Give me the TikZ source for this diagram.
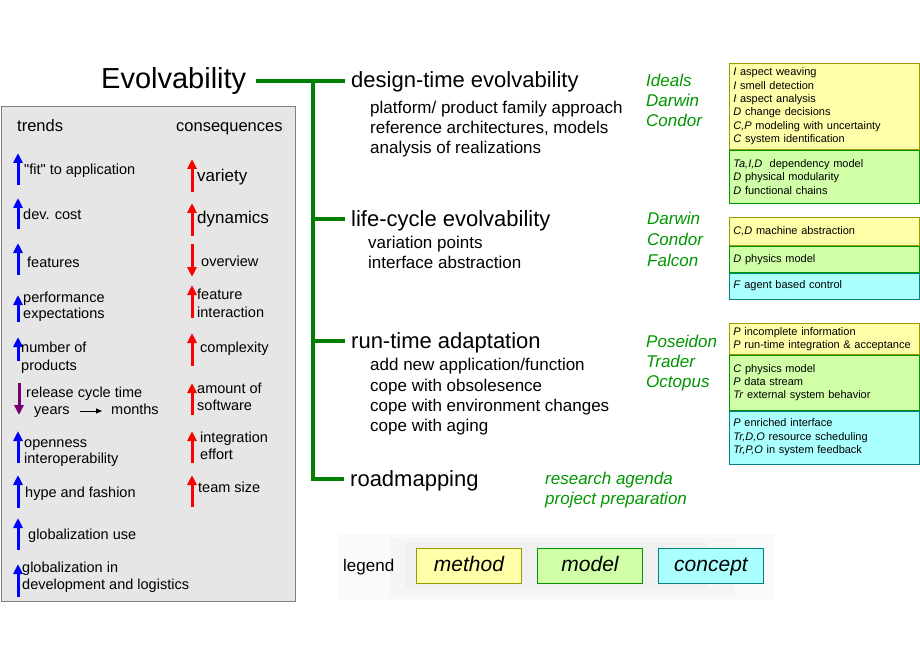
\documentclass[tikz,border=0pt]{standalone}
\usepackage{fontspec}
\setmainfont{Liberation Sans}[Ligatures=TeXOff]
\usetikzlibrary{arrows.meta, positioning}

\definecolor{treegreen}{RGB}{0,128,0}
\definecolor{projgreen}{RGB}{0,150,0}
\definecolor{methodfill}{RGB}{255,255,170}
\definecolor{methodline}{RGB}{153,153,0}
\definecolor{modelfill}{RGB}{208,255,168}
\definecolor{modelline}{RGB}{0,150,0}
\definecolor{conceptfill}{RGB}{170,255,255}
\definecolor{conceptline}{RGB}{0,128,128}
\definecolor{panelfill}{RGB}{230,230,230}
\definecolor{panelline}{RGB}{128,128,128}

\tikzset{
  tree/.style={draw=treegreen, line width=3.3pt},
  head/.style={anchor=west, inner xsep=6pt, inner ysep=0pt, font=\fontsize{22}{24}\selectfont, text height=16pt, text depth=2pt},
  item/.style={anchor=base west, inner sep=0pt, font=\fontsize{17}{20}\selectfont},
  project/.style={anchor=base west, inner sep=0pt, text=projgreen, font=\fontsize{17}{20}\selectfont\itshape},
  small/.style={anchor=base west, inner sep=0pt, font=\fontsize{14.5}{17}\selectfont},
  trendup/.style={draw=blue, line width=3pt, -{Triangle[length=10pt,width=9pt]}},
  conseq/.style={draw=red, line width=3pt, -{Triangle[length=10pt,width=9pt]}},
  boxtext/.style={anchor=north west, align=left, text width=182pt, inner xsep=4pt, inner ysep=2pt, line width=0.8pt, font=\fontsize{11}{13.4}\selectfont},
  methodcol/.style={fill=methodfill, draw=methodline},
  modelcol/.style={fill=modelfill, draw=modelline},
  conceptcol/.style={fill=conceptfill, draw=conceptline},
  legendbox/.style={minimum width=105pt, minimum height=35pt, inner sep=0pt, line width=0.8pt, text height=15pt, text depth=5pt, font=\fontsize{21}{24}\selectfont\itshape}
}

\begin{document}
\begin{tikzpicture}[x=1pt, y=-1pt]
\fill[white] (0,0) rectangle (920,660);
\useasboundingbox (0,0) rectangle (920,660);

% Evolvability tree
\node[anchor=west, inner xsep=10pt, inner ysep=0pt, font=\fontsize{29}{32}\selectfont, text height=22pt, text depth=6pt] (evo) at (91,81) {Evolvability};
\node[head] (design) at (345,81) {design-time evolvability};
\node[head] (lifecycle) at (345,219) {life-cycle evolvability};
\node[head] (runtime) at (345,341) {run-time adaptation};
\node[head] (roadmap) at (344,479) {roadmapping};
\coordinate (trunk) at (313,81);
\draw[tree] (evo) -- (design);
\foreach \n in {lifecycle, runtime, roadmap}
  \draw[tree] (trunk) |- (\n.west);

% topics per branch
\foreach \t [count=\i] in {{platform/ product family approach}, {reference architectures, models}, {analysis of realizations}}
  \node[item] (dt\i) at (370,94+20*\i) {\t};
\foreach \y/\t [count=\i] in {248/{variation points}, 269/{interface abstraction}}
  \node[item] (lc\i) at (368,\y) {\t};
\foreach \y/\t [count=\i] in {370/{add new application/function}, 391/{cope with obsolesence}, 411/{cope with environment changes}, 431/{cope with aging}}
  \node[item] (rt\i) at (370,\y) {\t};

% projects
\foreach \t [count=\i] in {Ideals, Darwin, Condor}
  \node[project] (pdt\i) at (646,67+20*\i) {\t};
\foreach \y/\t [count=\i] in {225/Darwin, 245/Condor, 266/Falcon}
  \node[project] (plc\i) at (647,\y) {\t};
\foreach \t [count=\i] in {Poseidon, Trader, Octopus}
  \node[project] (prt\i) at (646,327+20*\i) {\t};
\node[project] (prm1) at (545,484) {research agenda};
\node[project] (prm2) at (545,504) {project preparation};

% research boxes
\node[boxtext, methodcol, minimum height=86pt] (dtm) at (729,63) {\textit{I} aspect weaving\\ \textit{I} smell detection\\ \textit{I} aspect analysis\\ \textit{D} change decisions\\ \textit{C,P} modeling with uncertainty\\ \textit{C} system identification};
\node[boxtext, modelcol, minimum height=53pt] (dtg) at (dtm.south west) {\textit{Ta,I,D}\ \ dependency model\\ \textit{D} physical modularity\\ \textit{D} functional chains};

\node[boxtext, methodcol, minimum height=28pt] (lcm) at (729,217) {\textit{C,D} machine abstraction};
\node[boxtext, modelcol, minimum height=26pt] (lcg) at (lcm.south west) {\textit{D} physics model};
\node[boxtext, conceptcol, minimum height=26pt] (lcc) at (lcg.south west) {\textit{F} agent based control};

\node[boxtext, methodcol, minimum height=31pt] (rtm) at (729,323) {\textit{P} incomplete information\\ \textit{P} run-time integration \& acceptance};
\node[boxtext, modelcol, minimum height=55pt] (rtg) at (rtm.south west) {\textit{C} physics model\\ \textit{P} data stream\\ \textit{Tr} external system behavior};
\node[boxtext, conceptcol, minimum height=53pt] (rtc) at (rtg.south west) {\textit{P} enriched interface\\ \textit{Tr,D,O} resource scheduling\\ \textit{Tr,P,O} in system feedback};

% trends and consequences
\draw[fill=panelfill, draw=panelline] (1,106) rectangle (295,601);
\node[small, font=\fontsize{16.5}{19}\selectfont] (trends) at (17,132) {trends};
\node[small, font=\fontsize{16.5}{19}\selectfont] (conseqs) at (176,132) {consequences};

\foreach \yb/\yt in {185/153, 229/198, 275/243, 322/295, 361/337, 463/431, 508/475, 550/518, 597/564}
  \draw[trendup] (18,\yb) -- (18,\yt);
\draw[trendup, draw=violet!90!black] (19,383) -- (19,415);
\foreach \x/\y/\t [count=\i] in {24/175/{"fit" to application}, 23/220/{dev. cost}, 27/267/features, 23/302/performance, 23/318/expectations, 21/352/{number of}, 21/370/products, 26/397/{release cycle time}, 34/414/years, 111/414/months, 24/447/openness, 24/463/interoperability, 25/497/{hype and fashion}, 28/539/{globalization use}, 22/572/{globalization in}, 22/589/{development and logistics}}
  \node[small] (tr\i) at (\x,\y) {\t};
\draw[-{Triangle[length=6pt,width=5pt]}, line width=0.8pt] ([xshift=10pt, yshift=3pt]tr9.base east) -- ([xshift=-9pt, yshift=3pt]tr10.base west);

\foreach \yb/\yt in {192/159, 236/203, 244/277, 318/285, 366/333, 415/383, 463/431, 507/475}
  \draw[conseq] (192,\yb) -- (192,\yt);
\foreach \x/\y/\t [count=\i] in {197/299/feature, 197/317/interaction, 200/352/complexity, 197/393/{amount of}, 197/410/software, 200/442/integration, 200/459/effort, 198/492/{team size}, 201/266/overview}
  \node[small] (cq\i) at (\x,\y) {\t};
\node[item] (variety) at (197,182) {variety};
\node[item] (dynamics) at (197,224) {dynamics};

% legend
\fill[gray!4] (338,534) rectangle (775,600);
\fill[gray!8] (390,538) rectangle (735,596);
\fill[gray!12] (405,543) rectangle (707,589);
\node[item] (legend) at (343,571) {legend};
\node[legendbox, methodcol] (lmethod) at (469,566) {method};
\node[legendbox, modelcol] (lmodel) at (590,566) {model};
\node[legendbox, conceptcol] (lconcept) at (711,566) {concept};
\end{tikzpicture}
\end{document}
